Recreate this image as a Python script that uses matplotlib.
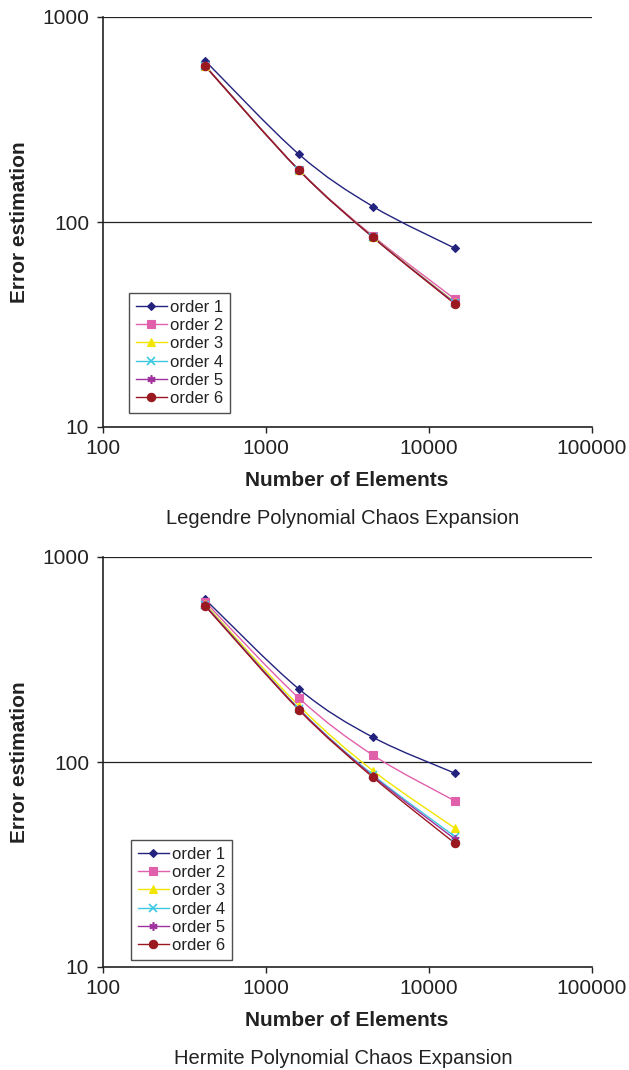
import matplotlib
matplotlib.use("Agg")
import numpy as np
import matplotlib.pyplot as plt
from matplotlib.path import Path
from matplotlib.patches import PathPatch
from matplotlib.lines import Line2D
from matplotlib.ticker import FixedLocator, FixedFormatter, NullLocator

plt.rcParams['font.family'] = ['Liberation Sans', 'DejaVu Sans']

elements = [423, 1592, 4530, 14450]

labels = ["order 1", "order 2", "order 3", "order 4", "order 5", "order 6"]

legendre = [
    [612, 214, 119, 74.4],
    [579, 179.5, 85.5, 42.0],
    [578, 179, 84.5, 40.5],
    [578, 179, 84.3, 40.3],
    [577, 179, 84.2, 40.1],
    [577, 179, 84.2, 39.8],
]

hermite = [
    [622, 227, 132, 88.1],
    [605, 205, 108, 64.5],
    [590, 188, 90.7, 47.5],
    [583, 182, 86.5, 43.2],
    [580, 181, 85.5, 42.0],
    [577, 179.5, 84.2, 40.1],
]

colors = ["#23237E", "#E060AC", "#F2E600", "#3CC8E0", "#A0329E", "#9A1820"]
markers = ["D", "s", "^", "x", (6, 2, 0), "o"]
msizes = [4.5, 6, 6, 6, 6, 6]

yticks = [10, 100, 1000]
xticks = [100, 1000, 10000, 100000]

W, H = 629, 1070
fig = plt.figure(figsize=(W / 100, H / 100), dpi=100)


def smooth_path(xs, ys):
    """Excel-style smoothed line through the data points (Bezier, log space)."""
    lx = np.log10(np.asarray(xs, float))
    ly = np.log10(np.asarray(ys, float))
    P = np.column_stack([lx, ly])
    n = len(P)
    verts = [P[0]]
    codes = [Path.MOVETO]
    for i in range(n - 1):
        p0 = P[i - 1] if i > 0 else P[i]
        p1 = P[i]
        p2 = P[i + 1]
        p3 = P[i + 2] if i + 2 < n else P[i + 1]
        c1 = p1 + (p2 - p0) / 6.0
        c2 = p2 - (p3 - p1) / 6.0
        verts += [c1, c2, p2]
        codes += [Path.CURVE4] * 3
    verts = 10 ** np.array(verts)
    return Path(verts, codes)


def make_panel(top_px, data, caption, leg_anchor):
    ax = fig.add_axes([103 / W, 1 - (top_px + 410) / H, 489 / W, 410 / H])
    ax.set_xscale('log')
    ax.set_yscale('log')
    ax.set_xlim(100, 100000)
    ax.set_ylim(10, 1000)
    for g in [100, 1000]:
        ax.axhline(g, color='#222222', lw=0.9, zorder=0)
    handles = []
    for vals, c, m, ms, lab in zip(data, colors, markers, msizes, labels):
        mew = 1.2 if m in ("x", (6, 2, 0)) else 0.8
        ax.add_patch(PathPatch(smooth_path(elements, vals), facecolor='none',
                               edgecolor=c, lw=1.0, zorder=2))
        ax.plot(elements, vals, linestyle='none', marker=m, ms=ms, color=c,
                mew=mew, mec=c, zorder=3)
        handles.append(Line2D([], [], color=c, lw=1.0, marker=m, ms=ms,
                              mew=mew, mec=c, label=lab))
    ax.xaxis.set_major_locator(FixedLocator(xticks))
    ax.xaxis.set_major_formatter(FixedFormatter([str(v) for v in xticks]))
    ax.yaxis.set_major_locator(FixedLocator(yticks))
    ax.yaxis.set_major_formatter(FixedFormatter([str(v) for v in yticks]))
    ax.xaxis.set_minor_locator(NullLocator())
    ax.yaxis.set_minor_locator(NullLocator())
    ax.tick_params(axis='both', direction='out', length=4, width=1,
                   labelsize=15, color='#222222', labelcolor='#222222')
    ax.tick_params(axis='x', pad=5)
    ax.tick_params(axis='y', pad=6)
    for s in ['top', 'right']:
        ax.spines[s].set_visible(False)
    for s in ['left', 'bottom']:
        ax.spines[s].set_color('#222222')
        ax.spines[s].set_linewidth(1.2)
    leg = ax.legend(handles=handles, loc='upper left', bbox_to_anchor=leg_anchor,
                    fontsize=12, frameon=True, fancybox=False, edgecolor='#222222',
                    labelspacing=0.2, handlelength=1.9, handletextpad=0.15,
                    borderpad=0.4, borderaxespad=0.0)
    leg.get_frame().set_linewidth(1.0)
    for t in leg.get_texts():
        t.set_color('#222222')
    bottom_px = top_px + 410
    fig.text(347 / W, 1 - (bottom_px + 53) / H, "Number of Elements",
             ha='center', va='center', fontsize=15, fontweight='bold', color='#222222')
    fig.text(343 / W, 1 - (bottom_px + 91) / H, caption,
             ha='center', va='center', fontsize=14.5, color='#222222')
    fig.text(20 / W, 1 - (top_px + 205) / H, "Error estimation", rotation=90,
             ha='center', va='center', fontsize=15, fontweight='bold', color='#222222')
    return ax


make_panel(17, legendre, "Legendre Polynomial Chaos Expansion", (0.053, 0.327))
make_panel(557, hermite, "Hermite Polynomial Chaos Expansion", (0.057, 0.310))

fig.savefig("out.png", dpi=100)
